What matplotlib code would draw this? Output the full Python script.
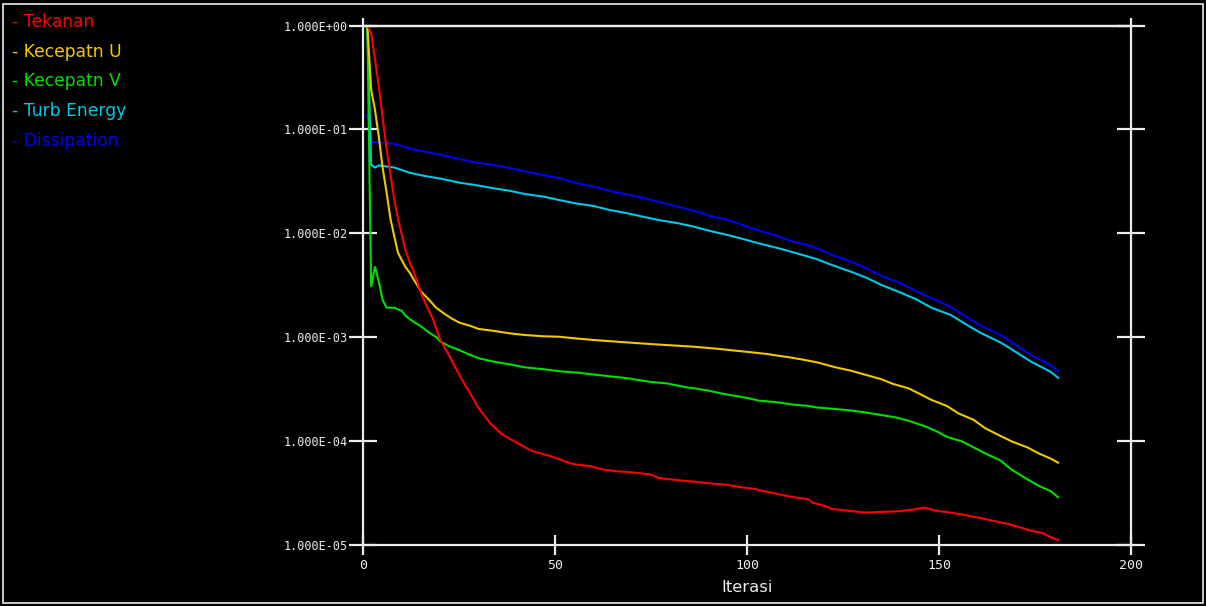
import numpy as np
import matplotlib.pyplot as plt
from matplotlib.ticker import FuncFormatter, FixedLocator, NullLocator
from matplotlib.patches import Rectangle

# residual history
it_tek = [1, 2, 3, 4, 5, 6, 7, 8, 9, 10, 11, 12, 13, 14, 15, 16, 18, 20, 22, 24, 26, 28, 30,
          33, 36, 40, 44, 48, 51, 53, 55, 59, 62, 66, 71, 75, 77, 82, 86, 90, 95, 98, 102,
          104, 107, 110, 113, 116, 117, 120, 122, 127, 131, 135, 140, 144, 146, 149, 153,
          157, 161, 164, 168, 171, 174, 177, 179, 181]
tekanan = [1.0, 0.85, 0.47, 0.26, 0.13, 0.066, 0.038, 0.0215, 0.0138, 9.6e-3, 6.8e-3,
           5.3e-3, 4.4e-3, 3.4e-3, 2.66e-3, 2.18e-3, 1.53e-3, 9.4e-4, 7.0e-4, 5.06e-4, 3.7e-4,
           2.8e-4, 2.08e-4, 1.49e-4, 1.17e-4, 9.6e-5, 8.0e-5, 7.3e-5, 6.7e-5, 6.25e-5, 5.97e-5,
           5.75e-5, 5.35e-5, 5.12e-5, 4.96e-5, 4.75e-5, 4.4e-5, 4.2e-5, 4.07e-5, 3.92e-5,
           3.78e-5, 3.61e-5, 3.46e-5, 3.31e-5, 3.15e-5, 2.98e-5, 2.85e-5, 2.75e-5, 2.55e-5,
           2.39e-5, 2.22e-5, 2.12e-5, 2.05e-5, 2.08e-5, 2.12e-5, 2.21e-5, 2.29e-5, 2.14e-5,
           2.05e-5, 1.93e-5, 1.81e-5, 1.71e-5, 1.59e-5, 1.48e-5, 1.37e-5, 1.30e-5, 1.19e-5,
           1.12e-5]

it_u = [1, 2, 3, 4, 5, 6, 7, 8, 9, 10, 11, 12, 13, 14, 15, 17, 19, 21, 23, 25, 28, 30, 34,
        38, 42, 47, 51, 55, 60, 66, 72, 79, 86, 92, 96, 101, 105, 108, 111, 114, 118, 123,
        127, 131, 135, 138, 142, 145, 148, 152, 155, 159, 162, 166, 169, 173, 176, 179, 181]
kec_u = [1.0, 0.24, 0.154, 0.0845, 0.0425, 0.025, 0.014, 9.4e-3, 6.5e-3, 5.5e-3, 4.7e-3,
         4.2e-3, 3.63e-3, 3.18e-3, 2.75e-3, 2.31e-3, 1.91e-3, 1.69e-3, 1.51e-3, 1.38e-3,
         1.28e-3, 1.20e-3, 1.15e-3, 1.09e-3, 1.05e-3, 1.02e-3, 1.01e-3, 9.75e-4, 9.4e-4,
         9.05e-4, 8.73e-4, 8.4e-4, 8.1e-4, 7.75e-4, 7.48e-4, 7.16e-4, 6.9e-4, 6.64e-4, 6.4e-4,
         6.13e-4, 5.75e-4, 5.13e-4, 4.76e-4, 4.33e-4, 3.93e-4, 3.55e-4, 3.22e-4, 2.84e-4,
         2.49e-4, 2.18e-4, 1.85e-4, 1.60e-4, 1.33e-4, 1.12e-4, 9.9e-5, 8.7e-5, 7.6e-5,
         6.8e-5, 6.2e-5]

it_v = [1, 2, 3, 4, 5, 6, 8, 10, 11, 13, 15, 17, 19, 20, 22, 25, 28, 30, 34, 38, 42, 47, 51,
        56, 61, 65, 69, 72, 75, 79, 81, 84, 87, 90, 94, 97, 100, 103, 108, 112, 116, 118,
        124, 128, 131, 135, 139, 142, 146, 149, 152, 156, 159, 162, 166, 169, 173, 176, 179,
        181]
kec_v = [1.0, 3.04e-3, 4.8e-3, 3.4e-3, 2.28e-3, 1.93e-3, 1.92e-3, 1.79e-3, 1.60e-3, 1.41e-3,
         1.27e-3, 1.11e-3, 1.0e-3, 9.1e-4, 8.3e-4, 7.5e-4, 6.7e-4, 6.27e-4, 5.8e-4, 5.48e-4,
         5.13e-4, 4.91e-4, 4.7e-4, 4.55e-4, 4.33e-4, 4.17e-4, 4.02e-4, 3.85e-4, 3.7e-4,
         3.6e-4, 3.47e-4, 3.3e-4, 3.19e-4, 3.05e-4, 2.84e-4, 2.72e-4, 2.6e-4, 2.45e-4,
         2.36e-4, 2.24e-4, 2.18e-4, 2.11e-4, 2.02e-4, 1.95e-4, 1.88e-4, 1.78e-4, 1.68e-4,
         1.57e-4, 1.40e-4, 1.26e-4, 1.10e-4, 9.9e-5, 8.7e-5, 7.6e-5, 6.5e-5, 5.27e-5,
         4.29e-5, 3.7e-5, 3.31e-5, 2.88e-5]

it_k = [1, 2, 3, 4, 8, 12, 16, 21, 25, 29, 34, 38, 42, 47, 51, 55, 60, 64, 68, 73, 77, 82,
        86, 90, 95, 99, 103, 108, 112, 116, 118, 122, 127, 131, 135, 140, 144, 148, 153,
        157, 161, 166, 170, 174, 179, 181]
turb_energy = [1.0, 4.55e-2, 4.3e-2, 4.5e-2, 4.3e-2, 3.83e-2, 3.56e-2, 3.31e-2, 3.07e-2,
               2.92e-2, 2.71e-2, 2.57e-2, 2.39e-2, 2.25e-2, 2.09e-2, 1.95e-2, 1.83e-2,
               1.68e-2, 1.58e-2, 1.44e-2, 1.34e-2, 1.25e-2, 1.16e-2, 1.06e-2, 9.6e-3, 8.8e-3,
               8.0e-3, 7.2e-3, 6.56e-3, 5.95e-3, 5.66e-3, 4.96e-3, 4.27e-3, 3.74e-3, 3.18e-3,
               2.68e-3, 2.32e-3, 1.92e-3, 1.64e-3, 1.33e-3, 1.09e-3, 8.9e-4, 7.2e-4, 5.8e-4,
               4.66e-4, 4.07e-4]

it_e = [1, 2, 6, 9, 11, 15, 18, 22, 27, 31, 36, 40, 44, 51, 55, 60, 64, 68, 73, 77, 82, 86,
        90, 95, 99, 103, 108, 112, 116, 118, 122, 127, 131, 135, 140, 144, 148, 153, 157,
        161, 166, 170, 174, 179, 181]
dissipation = [0.138, 7.6e-2, 7.4e-2, 7.1e-2, 6.7e-2, 6.2e-2, 5.9e-2, 5.5e-2, 5.0e-2, 4.7e-2,
               4.4e-2, 4.1e-2, 3.8e-2, 3.4e-2, 3.07e-2, 2.81e-2, 2.57e-2, 2.39e-2, 2.19e-2,
               2.0e-2, 1.80e-2, 1.65e-2, 1.48e-2, 1.34e-2, 1.19e-2, 1.06e-2, 9.4e-3, 8.3e-3,
               7.66e-3, 7.2e-3, 6.2e-3, 5.33e-3, 4.6e-3, 3.88e-3, 3.30e-3, 2.78e-3, 2.37e-3,
               1.96e-3, 1.57e-3, 1.28e-3, 1.05e-3, 8.4e-4, 6.7e-4, 5.4e-4, 4.7e-4]

names = ['Tekanan', 'Kecepatn U', 'Kecepatn V', 'Turb Energy', 'Dissipation']
colors = ['#ff0000', '#f0c800', '#00dd00', '#00c8e6', '#0000f0']
x_ticks = [0, 50, 100, 150, 200]
y_ticks = [1e-5, 1e-4, 1e-3, 1e-2, 1e-1, 1e0]

fg = '#ececec'

fig = plt.figure(figsize=(12.06, 6.06), dpi=100, facecolor='black')
ax = fig.add_axes([0.3014, 0.1007, 0.6364, 0.8572])
ax.set_facecolor('black')

series = [(it_e, dissipation), (it_k, turb_energy), (it_v, kec_v), (it_u, kec_u), (it_tek, tekanan)]
for (xs, ys), c in zip(series, colors[::-1]):
    ax.plot(xs, ys, color=c, lw=1.5, solid_joinstyle='miter')

ax.set_yscale('log')
ax.set_xlim(0, 200)
ax.set_ylim(1e-5, 1)
ax.xaxis.set_major_locator(FixedLocator(x_ticks))
ax.yaxis.set_major_locator(FixedLocator(y_ticks))
ax.yaxis.set_minor_locator(NullLocator())
ax.yaxis.set_major_formatter(FuncFormatter(lambda v, p: '%.3E' % v))

for s in ax.spines.values():
    s.set_color(fg)
    s.set_linewidth(1.6)

ax.tick_params(axis='y', left=True, right=True, direction='inout', length=20, width=1.6,
               color=fg, labelcolor=fg, pad=1, labelsize=8.5)
ax.tick_params(axis='x', bottom=True, direction='inout', length=14, width=1.6,
               color=fg, labelcolor=fg, pad=3, labelsize=9.5)
for lab in ax.get_yticklabels() + ax.get_xticklabels():
    lab.set_family('DejaVu Sans Mono')

# the short stubs above the frame at both ends
top = ax.secondary_xaxis('top')
top.set_xticks([0, 200])
top.set_xticklabels(['', ''])
top.tick_params(direction='out', length=6, width=1.6, color=fg)
top.spines['top'].set_color(fg)
top.spines['top'].set_linewidth(1.6)

ax.set_xlabel('Iterasi', color=fg, fontsize=11.8, labelpad=6)

# legend drawn as coloured text at the top left
for i, (n, c) in enumerate(zip(names, colors)):
    fig.text(12 / 1206, 1 - (22 + 29.7 * i) / 606, '- ' + n, color=c, fontsize=12.3,
             va='center', ha='left')

fig.patches.append(Rectangle((3.5 / 1206, 3 / 606), 1 - 7 / 1206, 1 - 6.5 / 606,
                             transform=fig.transFigure, fill=False, ec=fg, lw=1.2))

fig.savefig('out.png', dpi=100, facecolor='black')
